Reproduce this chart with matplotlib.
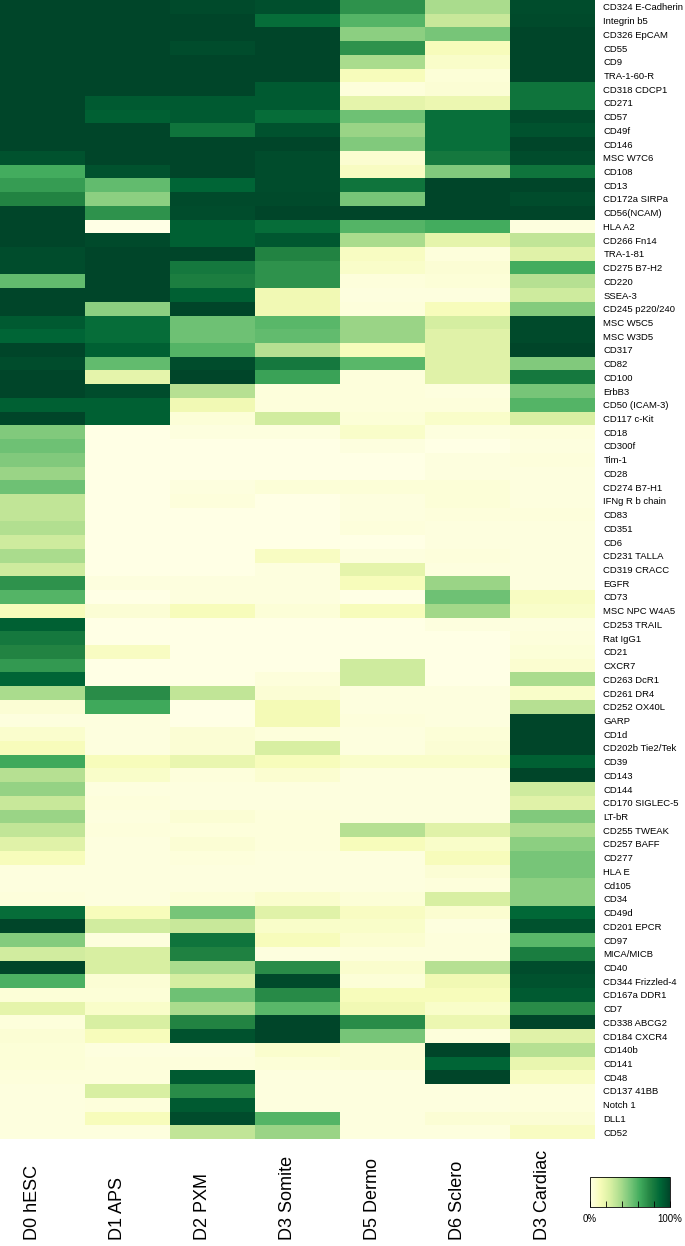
import matplotlib
matplotlib.use("Agg")
import matplotlib.pyplot as plt
import matplotlib.transforms as mtransforms
import numpy as np

# row labels (surface markers), top to bottom
markers = [
    "CD324 E-Cadherin", "Integrin b5", "CD326 EpCAM", "CD55", "CD9", "TRA-1-60-R",
    "CD318 CDCP1", "CD271", "CD57", "CD49f", "CD146", "MSC W7C6", "CD108", "CD13",
    "CD172a SIRPa", "CD56(NCAM)", "HLA A2", "CD266 Fn14", "TRA-1-81", "CD275 B7-H2",
    "CD220", "SSEA-3", "CD245 p220/240", "MSC W5C5", "MSC W3D5", "CD317", "CD82",
    "CD100", "ErbB3", "CD50 (ICAM-3)", "CD117 c-Kit", "CD18", "CD300f", "Tim-1",
    "CD28", "CD274 B7-H1", "IFNg R b chain", "CD83", "CD351", "CD6", "CD231 TALLA",
    "CD319 CRACC", "EGFR", "CD73", "MSC NPC W4A5", "CD253 TRAIL", "Rat IgG1", "CD21",
    "CXCR7", "CD263 DcR1", "CD261 DR4", "CD252 OX40L", "GARP", "CD1d",
    "CD202b Tie2/Tek", "CD39", "CD143", "CD144", "CD170 SIGLEC-5", "LT-bR",
    "CD255 TWEAK", "CD257 BAFF", "CD277", "HLA E", "Cd105", "CD34", "CD49d",
    "CD201 EPCR", "CD97", "MICA/MICB", "CD40", "CD344 Frizzled-4", "CD167a DDR1",
    "CD7", "CD338 ABCG2", "CD184 CXCR4", "CD140b", "CD141", "CD48", "CD137 41BB",
    "Notch 1", "DLL1", "CD52",
]

stages = ["D0 hESC", "D1 APS", "D2 PXM", "D3 Somite", "D5 Dermo", "D6 Sclero", "D3 Cardiac"]

# % positive per stage, same order as markers
d0_hesc = [100, 100, 100, 100, 100, 100, 100, 100, 100, 100,
           100, 95, 62, 67, 75, 100, 100, 100, 97, 97,
           55, 100, 100, 92, 88, 100, 97, 100, 100, 90,
           100, 48, 52, 48, 42, 52, 32, 32, 36, 28,
           38, 28, 70, 58, 12, 90, 80, 75, 68, 88,
           38, 5, 2, 7, 12, 63, 35, 43, 30, 42,
           32, 22, 12, 2, 2, 3, 85, 100, 47, 27,
           100, 60, 4, 20, 3, 5, 4, 4, 3, 2,
           2, 2, 2]
d1_aps = [100, 100, 100, 100, 100, 100, 100, 92, 90, 100,
          100, 100, 95, 55, 45, 70, 0, 98, 100, 100,
          100, 100, 45, 85, 85, 90, 55, 20, 97, 90,
          90, 0, 0, 0, 0, 0, 0, 0, 0, 0,
          0, 0, 2, 0, 5, 0, 0, 10, 0, 0,
          72, 63, 2, 2, 2, 12, 8, 2, 3, 2,
          3, 2, 2, 2, 2, 2, 12, 27, 2, 25,
          25, 5, 4, 8, 25, 12, 2, 3, 3, 25,
          3, 12, 2]
d2_pxm = [98, 100, 100, 97, 100, 100, 100, 92, 92, 82,
          100, 100, 100, 88, 98, 97, 90, 90, 100, 80,
          77, 90, 100, 52, 52, 58, 97, 100, 35, 15,
          4, 2, 0, 0, 0, 2, 3, 0, 0, 0,
          0, 0, 2, 2, 12, 0, 0, 0, 0, 0,
          32, 0, 0, 5, 5, 18, 3, 2, 2, 5,
          3, 5, 3, 2, 2, 4, 50, 30, 82, 76,
          38, 26, 52, 38, 75, 95, 2, 3, 92, 72,
          92, 97, 32]
d3_somite = [96, 85, 100, 100, 100, 100, 92, 92, 85, 95,
             100, 97, 97, 97, 98, 100, 85, 93, 75, 70,
             70, 15, 15, 57, 55, 35, 80, 65, 3, 3,
             27, 2, 0, 0, 0, 4, 0, 0, 0, 0,
             10, 2, 2, 2, 4, 0, 0, 0, 0, 3,
             5, 14, 14, 3, 25, 12, 6, 2, 2, 3,
             3, 3, 2, 2, 2, 7, 22, 8, 12, 2,
             72, 98, 73, 57, 100, 100, 7, 4, 2, 2,
             2, 58, 42]
d5_dermo = [70, 58, 45, 70, 38, 12, 3, 20, 52, 42,
            48, 6, 10, 82, 50, 100, 58, 38, 10, 8,
            3, 2, 3, 42, 42, 12, 57, 3, 3, 3,
            4, 8, 2, 0, 0, 4, 2, 2, 3, 0,
            2, 20, 12, 0, 12, 0, 0, 0, 28, 28,
            2, 2, 3, 2, 2, 8, 2, 2, 2, 2,
            35, 12, 2, 2, 2, 4, 10, 8, 6, 3,
            7, 4, 12, 15, 72, 50, 5, 5, 2, 2,
            2, 2, 2]
d6_sclero = [38, 30, 50, 12, 8, 4, 5, 17, 84, 84,
             84, 80, 48, 100, 100, 100, 62, 20, 3, 5,
             4, 2, 12, 26, 22, 22, 22, 22, 2, 3,
             8, 2, 0, 2, 2, 4, 4, 3, 2, 2,
             3, 2, 42, 52, 40, 2, 0, 0, 0, 0,
             2, 2, 2, 4, 5, 8, 2, 2, 2, 2,
             22, 8, 12, 5, 3, 25, 6, 2, 3, 3,
             35, 15, 12, 8, 17, 3, 100, 88, 100, 2,
             2, 5, 2]
d3_cardiac = [97, 98, 100, 100, 100, 100, 82, 82, 98, 95,
              100, 97, 82, 100, 97, 100, 2, 32, 22, 62,
              35, 28, 47, 98, 98, 100, 48, 80, 50, 58,
              25, 3, 2, 3, 2, 2, 2, 3, 2, 2,
              2, 2, 2, 10, 8, 2, 3, 4, 6, 38,
              8, 35, 100, 100, 100, 90, 100, 28, 22, 48,
              37, 45, 50, 50, 45, 45, 87, 95, 57, 78,
              97, 95, 92, 72, 100, 22, 35, 18, 10, 3,
              3, 5, 10]

cbar_ticks = [0, 20, 40, 60, 80, 100]
cbar_labels = ["0%", "", "", "", "", "100%"]

W, H = 685, 1246
fig = plt.figure(figsize=(W / 100, H / 100), dpi=100)

data = np.column_stack([d0_hesc, d1_aps, d2_pxm, d3_somite, d5_dermo, d6_sclero, d3_cardiac])

# heatmap
ax = fig.add_axes([0, 1 - 1139 / H, 595 / W, 1139 / H])
im = ax.imshow(data, cmap="YlGn", vmin=0, vmax=100, aspect="auto", interpolation="nearest")
for s in ax.spines.values():
    s.set_visible(False)

label_font = ["Liberation Sans", "DejaVu Sans"]
ax.yaxis.tick_right()
ax.set_yticks(range(len(markers)))
ax.set_yticklabels(markers, fontsize=6.8, family=label_font)
ax.tick_params(axis="y", length=0, pad=6)
ax.set_xticks([])

# stage names, rotated, sitting on the bottom edge
trans = mtransforms.blended_transform_factory(ax.transData, fig.transFigure)
for i, name in enumerate(stages):
    ax.text(i - 0.12, 6 / H, name, transform=trans, rotation=90, ha="center", va="bottom",
            fontsize=13, family=label_font)

# colour key
cax = fig.add_axes([590 / W, 1 - 1207 / H, 80 / W, 30 / H])
cb = fig.colorbar(im, cax=cax, orientation="horizontal", ticks=cbar_ticks)
cb.ax.set_xticklabels(cbar_labels, fontsize=7, family=label_font)
cb.ax.tick_params(direction="in", length=4, width=0.6, pad=5)
cb.outline.set_linewidth(0.6)

fig.savefig("out.png", dpi=100)
